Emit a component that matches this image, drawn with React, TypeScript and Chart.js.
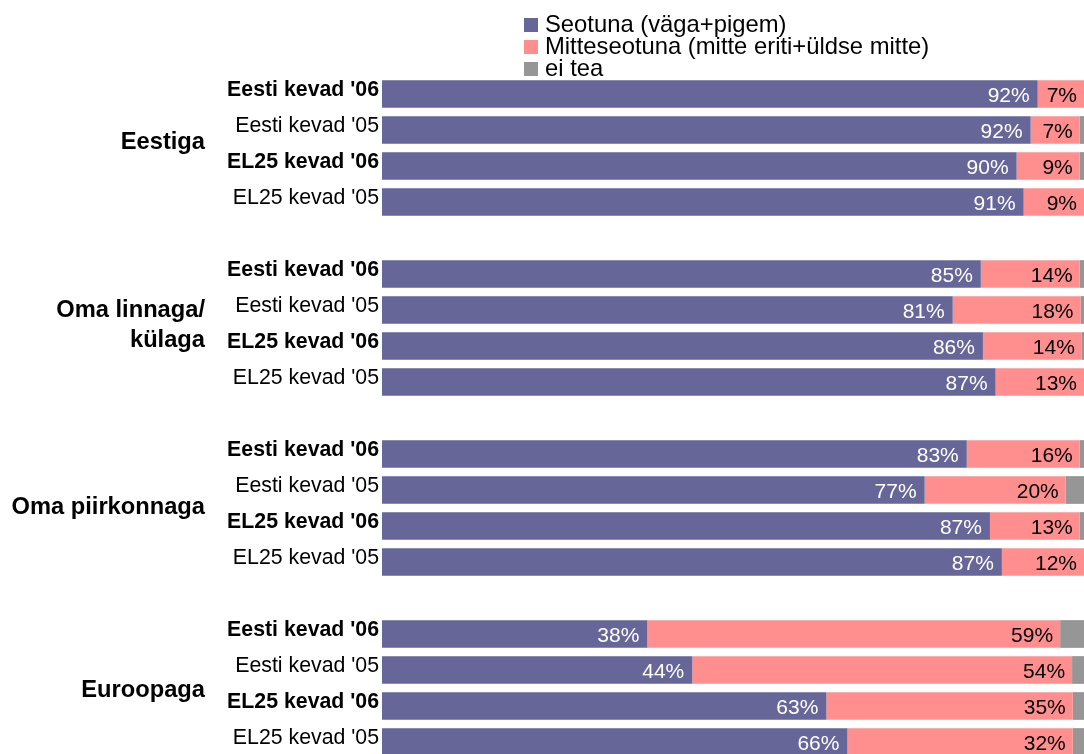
import React, { useEffect, useRef } from "react";
import { Chart, registerables } from "chart.js";

Chart.register(...registerables);

const groupNames: string[][] = [["Eestiga"], ["Oma linnaga/", "külaga"], ["Oma piirkonnaga"], ["Euroopaga"]];
const rowNames: string[] = ["Eesti kevad '06", "Eesti kevad '05", "EL25 kevad '06", "EL25 kevad '05"];
const rowBold: boolean[] = [true, false, true, false];

const seriesNames: string[] = ["Seotuna (väga+pigem)", "Mitteseotuna (mitte eriti+üldse mitte)", "ei tea"];

// bar lengths (%), per group, per row
const seotuna: number[][] = [
  [93.4, 92.4, 90.4, 91.4],
  [85.3, 81.3, 85.6, 87.4],
  [83.3, 77.3, 86.6, 88.3],
  [37.8, 44.2, 63.3, 66.3],
];
const mitteseotuna: number[][] = [
  [6.6, 7.0, 9.0, 8.6],
  [14.1, 18.2, 14.1, 12.6],
  [16.1, 20.1, 12.8, 11.7],
  [58.8, 54.1, 35.1, 32.1],
];
const eiTea: number[][] = [
  [0, 0.6, 0.6, 0],
  [0.6, 0.5, 0.3, 0],
  [0.6, 2.6, 0.6, 0],
  [3.4, 1.7, 1.6, 1.6],
];
// printed labels
const seotunaLabels: number[][] = [
  [92, 92, 90, 91],
  [85, 81, 86, 87],
  [83, 77, 87, 87],
  [38, 44, 63, 66],
];
const mitteLabels: number[][] = [
  [7, 7, 9, 9],
  [14, 18, 14, 13],
  [16, 20, 13, 12],
  [59, 54, 35, 32],
];

const COLORS = ["#666699", "#FF8F8F", "#969696"];
const FONT = '"Liberation Sans", Arial, Helvetica, sans-serif';

function flatten(arr: number[][]): (number | null)[] {
  const out: (number | null)[] = [];
  arr.forEach((g, gi) => {
    g.forEach((v) => out.push(v));
    if (gi < arr.length - 1) out.push(null);
  });
  return out;
}

function flatLabels(arr: number[][]): (string | null)[] {
  const out: (string | null)[] = [];
  arr.forEach((g, gi) => {
    g.forEach((v) => out.push(v + "%"));
    if (gi < arr.length - 1) out.push(null);
  });
  return out;
}

const categories: string[] = [];
groupNames.forEach((_, gi) => {
  rowNames.forEach((r) => categories.push(r + "|" + gi));
  if (gi < groupNames.length - 1) categories.push("gap" + gi);
});

export default function App() {
  const ref = useRef<HTMLCanvasElement | null>(null);

  useEffect(() => {
    if (!ref.current) return;
    const labelsBlue = flatLabels(seotunaLabels);
    const labelsRed = flatLabels(mitteLabels);

    const drawPlugin = {
      id: "customDraw",
      afterDatasetsDraw(chart: any) {
        const ctx = chart.ctx;
        const yScale = chart.scales.y;
        ctx.save();
        // value labels
        const metaB = chart.getDatasetMeta(0);
        const metaR = chart.getDatasetMeta(1);
        ctx.font = `21px ${FONT}`;
        ctx.textAlign = "right";
        ctx.textBaseline = "alphabetic";
        metaB.data.forEach((el: any, i: number) => {
          const t = labelsBlue[i];
          if (!t) return;
          ctx.fillStyle = "#ffffff";
          ctx.fillText(t, el.x - 8, el.y + 7.5);
        });
        metaR.data.forEach((el: any, i: number) => {
          const t = labelsRed[i];
          if (!t) return;
          ctx.fillStyle = "#000000";
          ctx.fillText(t, el.x - 7, el.y + 7.5);
        });
        // row labels
        let idx = 0;
        groupNames.forEach((g, gi) => {
          const first = idx;
          rowNames.forEach((r, ri) => {
            const y = yScale.getPixelForValue(idx);
            ctx.font = `${rowBold[ri] ? "bold " : ""}21.3px ${FONT}`;
            ctx.fillStyle = "#000000";
            ctx.textAlign = "right";
            ctx.fillText(r, 379, y + 1.5);
            idx++;
          });
          const last = idx - 1;
          idx++;
          const offsets = [-7, -4, -2, 1];
          const c = (yScale.getPixelForValue(first) + yScale.getPixelForValue(last)) / 2 + offsets[gi];
          ctx.font = `bold 23.7px ${FONT}`;
          const pitch = 30;
          g.forEach((line, li) => {
            const cy = c + (li - (g.length - 1) / 2) * pitch;
            ctx.fillText(line, 205, cy + 8.4);
          });
        });
        // legend
        ctx.textAlign = "left";
        ctx.font = `23.8px ${FONT}`;
        seriesNames.forEach((s, i) => {
          ctx.fillStyle = COLORS[i];
          ctx.fillRect(524, 18 + 22 * i, 14, 14);
          ctx.fillStyle = "#000000";
          ctx.fillText(s, 545, 32 + 22 * i);
        });
        ctx.restore();
      },
    };

    const chart = new Chart(ref.current, {
      type: "bar",
      data: {
        labels: categories,
        datasets: [
          { label: seriesNames[0], data: flatten(seotuna), backgroundColor: COLORS[0] },
          { label: seriesNames[1], data: flatten(mitteseotuna), backgroundColor: COLORS[1] },
          { label: seriesNames[2], data: flatten(eiTea), backgroundColor: COLORS[2] },
        ],
      },
      options: {
        indexAxis: "y",
        responsive: false,
        animation: false,
        devicePixelRatio: 1,
        layout: { padding: { left: 382, right: 0, top: 76, bottom: 10 } },
        datasets: { bar: { barPercentage: 0.77, categoryPercentage: 1, borderWidth: 0 } },
        scales: {
          x: { stacked: true, min: 0, max: 100, display: false },
          y: { stacked: true, display: false },
        },
        plugins: {
          legend: { display: false },
          tooltip: { enabled: false },
        },
      } as any,
      plugins: [drawPlugin],
    });
    return () => chart.destroy();
  }, []);

  return (
    <div style={{ position: "fixed", left: 0, top: 0, width: 1084, height: 754, overflow: "hidden", background: "#fff" }}>
      <canvas ref={ref} width={1084} height={770} style={{ display: "block" }} />
    </div>
  );
}
